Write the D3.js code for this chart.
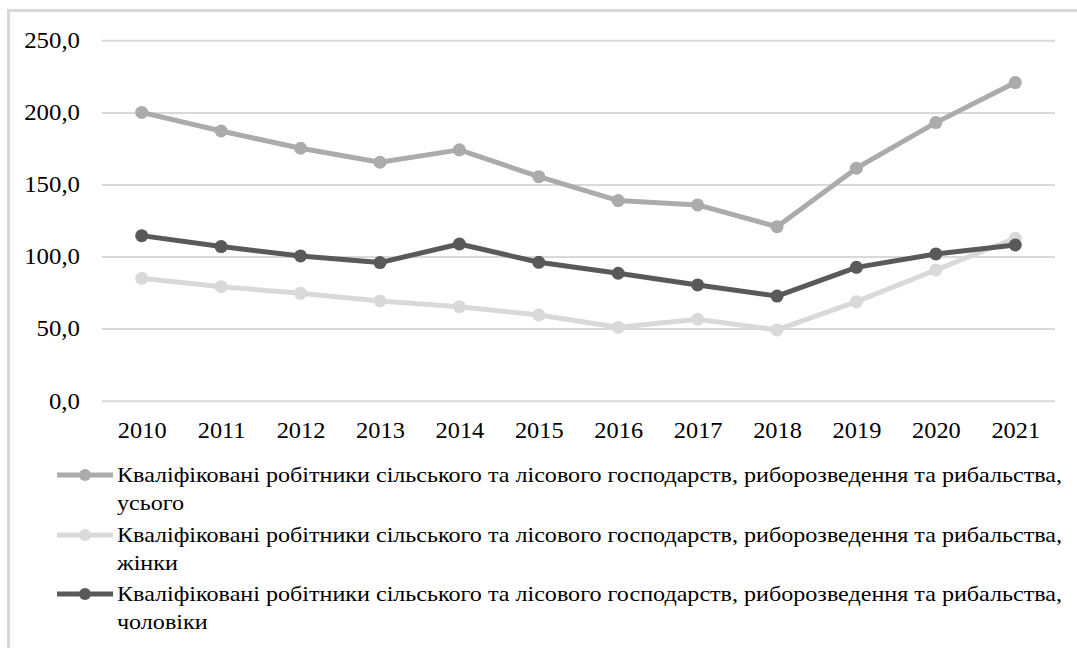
<!DOCTYPE html>
<html>
<head>
<meta charset="utf-8">
<script src="https://cdn.jsdelivr.net/npm/d3@7"></script>
<style>
  html, body { margin: 0; padding: 0; background: #fff; }
  svg { display: block; }
  svg text { font-family: "Liberation Serif", "Times New Roman", Times, "DejaVu Serif", serif !important; fill: #000; }
</style>
</head>
<body>
<svg id="chart" width="1077" height="648"></svg>
<script>
const years = ["2010","2011","2012","2013","2014","2015","2016","2017","2018","2019","2020","2021"];
const totalValues = [200.0, 187.1, 175.1, 165.4, 174.0, 155.4, 138.8, 135.8, 120.7, 161.3, 192.9, 220.7];
const womenValues = [84.9, 79.1, 74.5, 69.2, 65.2, 59.5, 50.9, 56.5, 49.1, 68.7, 90.7, 112.7];
const menValues   = [114.5, 106.9, 100.4, 95.8, 108.7, 96.0, 88.4, 80.3, 72.6, 92.5, 101.8, 108.0];
const yTicks = [0, 50, 100, 150, 200, 250];
const seriesNames = [
  ["Кваліфіковані робітники сільського та лісового господарств, риборозведення та рибальства,", "усього"],
  ["Кваліфіковані робітники сільського та лісового господарств, риборозведення та рибальства,", "жінки"],
  ["Кваліфіковані робітники сільського та лісового господарств, риборозведення та рибальства,", "чоловіки"]
];
const seriesColors = ["#ababab", "#d9d9d9", "#595959"];
const seriesData = [totalValues, womenValues, menValues];

const svg = d3.select("#chart");

svg.append("rect").attr("x", 8.5).attr("y", 10.5).attr("width", 1200).attr("height", 800)
  .attr("fill", "none").attr("stroke", "#d9d9d9").attr("stroke-width", 3);

const x = d3.scalePoint().domain(years).range([102, 1055]).padding(0.5);
const y = d3.scaleLinear().domain([0, 250]).range([400.7, 40.3]);

function stretch(sel, k) {
  sel.each(function() {
    const len = this.getComputedTextLength();
    d3.select(this).attr("textLength", len * k).attr("lengthAdjust", "spacingAndGlyphs");
  });
}

const yAxis = d3.axisLeft(y).tickValues(yTicks).tickSize(-(1055 - 102))
  .tickFormat(d => d3.format(".1f")(d).replace(".", ","));
const gy = svg.append("g").attr("transform", "translate(102,0)").call(yAxis);
gy.attr("font-family", null);
gy.select(".domain").remove();
gy.selectAll(".tick line").attr("stroke", "#d9d9d9").attr("stroke-width", 2);
gy.selectAll(".tick text").attr("x", -22).attr("dy", "0.32em").style("font-size", "23px");
stretch(gy.selectAll(".tick text"), 1.08);

const xAxis = d3.axisBottom(x).tickSize(0);
const gx = svg.append("g").attr("transform", "translate(0,400.7)").call(xAxis);
gx.attr("font-family", null);
gx.select(".domain").remove();
gx.selectAll(".tick text").attr("y", 30).attr("dy", "0.32em").style("font-size", "23px");
stretch(gx.selectAll(".tick text"), 1.06);

const line = d3.line().x((d, i) => x(years[i])).y(d => y(d));

seriesData.forEach((vals, s) => {
  const g = svg.append("g");
  g.append("path").datum(vals).attr("d", line).attr("fill", "none")
    .attr("stroke", seriesColors[s]).attr("stroke-width", 5).attr("stroke-linejoin", "round");
  g.selectAll("circle").data(vals).enter().append("circle")
    .attr("cx", (d, i) => x(years[i])).attr("cy", d => y(d)).attr("r", 6.5)
    .attr("fill", seriesColors[s]);
});

const legendRowY = [475, 535, 594];
seriesNames.forEach((lines, s) => {
  const ly = legendRowY[s];
  const g = svg.append("g");
  g.append("line").attr("x1", 57).attr("x2", 113).attr("y1", ly).attr("y2", ly)
    .attr("stroke", seriesColors[s]).attr("stroke-width", 5);
  g.append("circle").attr("cx", 85).attr("cy", ly).attr("r", 6).attr("fill", seriesColors[s]);
  const t1 = g.append("text").attr("x", 117).attr("y", ly + 7).style("font-size", "21px").text(lines[0]);
  const k = 945 / t1.node().getComputedTextLength();
  t1.attr("textLength", 945).attr("lengthAdjust", "spacingAndGlyphs");
  const t2 = g.append("text").attr("x", 117).attr("y", ly + 35).style("font-size", "21px").text(lines[1]);
  stretch(t2, k);
});
</script>
</body>
</html>
